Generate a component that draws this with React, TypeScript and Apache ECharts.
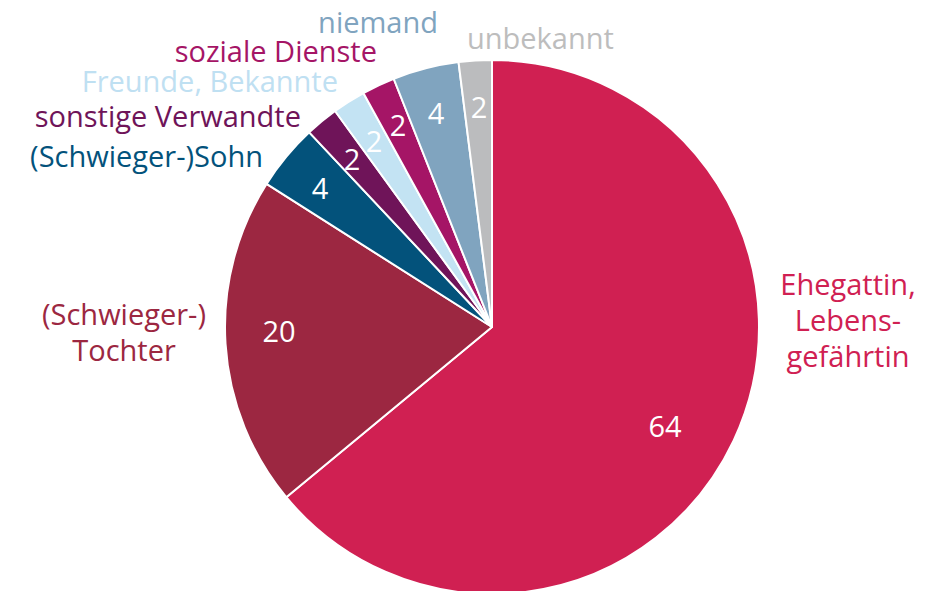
import React, { useEffect, useRef } from "react";
import * as echarts from "echarts";

const categories = [
  "Ehegattin,\nLebens-\ngefährtin",
  "(Schwieger-)\nTochter",
  "(Schwieger-)Sohn",
  "sonstige Verwandte",
  "Freunde, Bekannte",
  "soziale Dienste",
  "niemand",
  "unbekannt",
];
const values = [64, 20, 4, 2, 2, 2, 4, 2];
const colors = ["#d02052", "#9c2741", "#03527b", "#6f1459", "#c3e3f3", "#a51566", "#80a4bf", "#bbbcbe"];
const labelColors = ["#d02052", "#9c2741", "#03527b", "#6f1459", "#bfe0f2", "#a51566", "#80a4bf", "#bdbdbd"];

// label placement (layout only)
const nameLayout = [
  { x: 848, y: 319, align: "center" },
  { x: 124, y: 331, align: "center" },
  { x: 263, y: 155, align: "right" },
  { x: 301, y: 115, align: "right" },
  { x: 338, y: 80, align: "right" },
  { x: 377, y: 50, align: "right" },
  { x: 438, y: 21, align: "right" },
  { x: 467, y: 37, align: "left" },
];
const valueLayout = [
  { x: 665, y: 425 },
  { x: 279, y: 330 },
  { x: 320, y: 187 },
  { x: 352, y: 158 },
  { x: 374, y: 140 },
  { x: 398, y: 124 },
  { x: 436, y: 112 },
  { x: 479, y: 106 },
];

const FONT = "Open Sans";

export default function App() {
  const ref = useRef<HTMLDivElement>(null);
  useEffect(() => {
    const chart = echarts.init(ref.current!, undefined, { renderer: "svg" });
    const data = categories.map((name, i) => ({
      name,
      value: values[i],
      itemStyle: { color: colors[i] },
      label: { color: labelColors[i], lineHeight: name.includes("\n") ? 36 : 24 },
    }));
    chart.setOption({
      animation: false,
      series: [
        {
          type: "pie",
          center: [492, 327],
          radius: [0, 267],
          startAngle: 90,
          clockwise: true,
          avoidLabelOverlap: false,
          itemStyle: { borderColor: "#ffffff", borderWidth: 2 },
          label: {
            show: true,
            position: "outside",
            formatter: "{b}",
            fontFamily: FONT,
            fontSize: 29,
            align: "center",
          },
          labelLine: { show: false },
          labelLayout: (p: any) => {
            const l = nameLayout[p.dataIndex];
            return { x: l.x, y: l.y, align: l.align, verticalAlign: "middle" };
          },
          emphasis: { disabled: true },
          data,
        },
        {
          type: "pie",
          center: [492, 327],
          radius: [0, 267],
          startAngle: 90,
          clockwise: true,
          silent: true,
          avoidLabelOverlap: false,
          itemStyle: { color: "transparent", borderWidth: 0 },
          label: {
            show: true,
            position: "inside",
            formatter: "{c}",
            fontFamily: FONT,
            fontSize: 29,
            color: "#ffffff",
          },
          labelLine: { show: false },
          labelLayout: (p: any) => {
            const l = valueLayout[p.dataIndex];
            return { x: l.x, y: l.y, align: "center", verticalAlign: "middle" };
          },
          emphasis: { disabled: true },
          data: values.map((v, i) => ({ name: categories[i], value: v })),
        },
      ],
    });
    return () => chart.dispose();
  }, []);
  return (
    <div
      ref={ref}
      style={{ position: "fixed", left: 0, top: 0, width: 939, height: 591, background: "#ffffff" }}
    />
  );
}
